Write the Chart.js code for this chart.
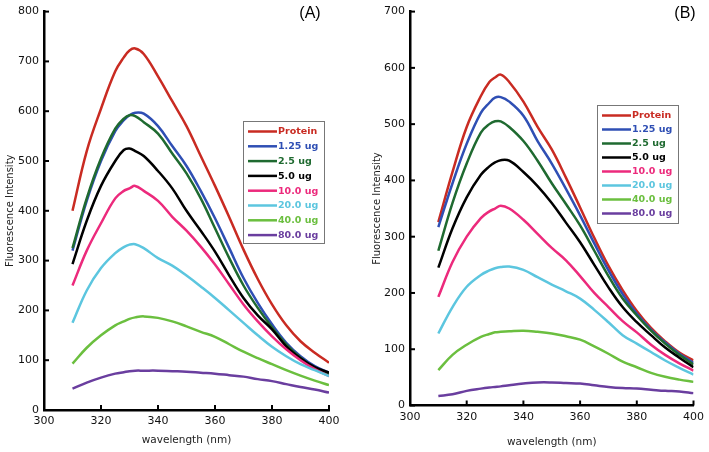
<!DOCTYPE html>
<html>
<head>
<meta charset="utf-8">
<script src="https://cdn.jsdelivr.net/npm/chart.js@4"></script>
<style>
  body { margin: 0; background: #fff; }
  #wrap { display: flex; width: 709px; height: 452px; }
  .panel { position: relative; height: 452px; }
</style>
</head>
<body>
<div id="wrap">
  <div class="panel" style="width:355px"><canvas id="chartA"></canvas></div>
  <div class="panel" style="width:354px"><canvas id="chartB"></canvas></div>
</div>
<script>
const wavelengths = [310, 315, 320, 325, 328, 330, 332, 335, 340, 345, 350, 355, 360, 365, 370, 375, 380, 385, 390, 395, 400];
const seriesNames = ['Protein', '1.25 ug', '2.5 ug', '5.0 ug', '10.0 ug', '20.0 ug', '40.0 ug', '80.0 ug'];
const seriesColors = ['#c92b22', '#2f4fb4', '#1f6a30', '#000000', '#ec2a7c', '#5cc6df', '#6bbf3f', '#6a3e9f'];

// panel (A)
const proteinA = [400, 520, 605, 680, 708, 722, 726, 715, 670, 620, 570, 510, 450, 387, 322, 263, 212, 170, 138, 115, 95];
const ug125A = [320, 420, 500, 560, 582, 592, 597, 595, 570, 530, 490, 440, 385, 325, 265, 215, 172, 135, 108, 88, 75];
const ug25A = [325, 425, 505, 565, 585, 592, 590, 578, 555, 515, 475, 425, 365, 305, 250, 205, 166, 132, 105, 85, 72];
const ug5A = [293, 380, 450, 500, 522, 525, 520, 510, 480, 445, 400, 360, 318, 270, 225, 190, 162, 128, 104, 86, 75];
const ug10A = [250, 320, 375, 425, 440, 445, 450, 440, 420, 388, 360, 328, 292, 252, 212, 178, 148, 122, 100, 82, 68];
const ug20A = [175, 240, 285, 315, 327, 332, 333, 325, 305, 290, 270, 248, 225, 200, 175, 150, 127, 108, 92, 80, 68];
const ug40A = [93, 125, 150, 170, 178, 183, 186, 188, 185, 178, 168, 157, 147, 132, 117, 104, 92, 80, 69, 59, 50];
const ug80A = [43, 55, 65, 73, 76, 78, 79, 79, 79, 78, 77, 75, 73, 70, 67, 62, 58, 52, 46, 41, 35];

// panel (B)
const proteinB = [326, 415, 495, 550, 575, 583, 588, 575, 540, 495, 455, 405, 352, 298, 248, 205, 168, 138, 114, 94, 80];
const ug125B = [317, 395, 465, 520, 538, 547, 548, 540, 515, 470, 430, 385, 338, 288, 240, 198, 163, 135, 112, 92, 76];
const ug25B = [275, 360, 430, 485, 500, 505, 505, 495, 470, 435, 395, 358, 320, 275, 230, 190, 160, 133, 110, 90, 73];
const ug5B = [245, 315, 370, 410, 425, 432, 436, 435, 415, 390, 360, 325, 290, 250, 210, 175, 148, 125, 103, 85, 68];
const ug10B = [193, 255, 300, 333, 345, 350, 355, 350, 330, 305, 280, 258, 230, 200, 175, 150, 130, 108, 90, 75, 62];
const ug20B = [128, 175, 211, 232, 240, 244, 246, 247, 241, 228, 215, 203, 190, 170, 148, 125, 110, 95, 80, 67, 55];
const ug40B = [63, 90, 108, 122, 127, 130, 131, 132, 133, 131, 128, 123, 117, 105, 92, 78, 68, 58, 51, 46, 42];
const ug80B = [17, 20, 26, 30, 32, 33, 34, 36, 39, 41, 41, 40, 39, 36, 33, 31, 30, 28, 26, 25, 22];

const xTicks = [300, 320, 340, 360, 380, 400];

// inward tick marks + framed legend + panel letter
function drawExtras(chart, opts) {
    const ctx = chart.ctx;
    const xs = chart.scales.x;
    const ys = chart.scales.y;
    const area = chart.chartArea;
    ctx.save();
    ctx.strokeStyle = '#000';
    ctx.lineWidth = 2;
    xTicks.forEach(v => {
        const px = xs.getPixelForValue(v);
        ctx.beginPath();
        ctx.moveTo(px, area.bottom);
        ctx.lineTo(px, area.bottom - 5);
        ctx.stroke();
    });
    ys.ticks.forEach(t => {
        const py = ys.getPixelForValue(t.value);
        ctx.beginPath();
        ctx.moveTo(area.left, py);
        ctx.lineTo(area.left + 5, py);
        ctx.stroke();
    });

    // legend box, Protein on top
    const lg = opts.legend;
    ctx.strokeStyle = '#777';
    ctx.lineWidth = 1;
    ctx.strokeRect(lg.x + 0.5, lg.y + 0.5, lg.w, lg.h);
    ctx.font = 'bold 9.5px "DejaVu Sans"';
    ctx.textBaseline = 'middle';
    seriesNames.forEach((name, i) => {
        const yy = lg.firstRow + i * lg.step;
        ctx.strokeStyle = seriesColors[i];
        ctx.lineWidth = 2.5;
        ctx.beginPath();
        ctx.moveTo(lg.x + 5, yy);
        ctx.lineTo(lg.x + 34, yy);
        ctx.stroke();
        ctx.fillStyle = seriesColors[i];
        ctx.fillText(name, lg.x + 35, yy + 0.5);
    });

    ctx.fillStyle = '#000';
    ctx.font = '16px "Liberation Sans"';
    ctx.textAlign = 'center';
    ctx.fillText(opts.letter, opts.letterX, opts.letterY);
    ctx.restore();
}

function makeChart(canvasId, seriesValues, yMax, lay) {
    // draw the lowest concentrations first so Protein sits on top
    const datasets = seriesValues.map((vals, i) => ({
        label: seriesNames[i],
        data: wavelengths.map((w, j) => ({ x: w, y: vals[j] })),
        borderColor: seriesColors[i],
        borderWidth: 2.5,
        pointRadius: 0,
        tension: 0.4,
        fill: false
    })).reverse();

    return new Chart(document.getElementById(canvasId).getContext('2d'), {
        type: 'line',
        data: { datasets: datasets },
        options: {
            responsive: true,
            maintainAspectRatio: false,
            animation: false,
            layout: { padding: { top: lay.top, right: lay.right, left: 0, bottom: 0 } },
            plugins: {
                legend: { display: false },
                tooltip: { enabled: false }
            },
            scales: {
                x: {
                    type: 'linear',
                    min: 300,
                    max: 400,
                    afterBuildTicks: scale => { scale.ticks = xTicks.map(v => ({ value: v })); },
                    afterFit: scale => { scale.height = lay.xHeight; },
                    border: { color: '#000', width: 2.5 },
                    grid: { display: false, drawTicks: false },
                    ticks: {
                        color: '#111',
                        padding: 5,
                        maxRotation: 0,
                        font: { family: 'DejaVu Sans', size: 11 }
                    },
                    title: {
                        display: true,
                        text: 'wavelength (nm)',
                        color: '#222',
                        padding: { top: 0, bottom: lay.xTitlePad },
                        font: { family: 'DejaVu Sans', size: 10.5 }
                    }
                },
                y: {
                    min: 0,
                    max: yMax,
                    afterFit: scale => { scale.width = lay.yWidth; },
                    border: { color: '#000', width: 2.5 },
                    grid: { display: false, drawTicks: false },
                    ticks: {
                        stepSize: 100,
                        color: '#111',
                        padding: 5,
                        font: { family: 'DejaVu Sans', size: 11 }
                    },
                    title: {
                        display: true,
                        text: 'Fluorescence Intensity',
                        color: '#222',
                        padding: { top: lay.yTitlePad, bottom: 0 },
                        font: { family: 'DejaVu Sans', size: 10 }
                    }
                }
            }
        },
        plugins: [{
            id: 'extras',
            afterDraw(chart) { drawExtras(chart, lay); }
        }]
    });
}

makeChart('chartA', [proteinA, ug125A, ug25A, ug5A, ug10A, ug20A, ug40A, ug80A], 800, {
    top: 10, right: 26, yWidth: 44, xHeight: 42, xTitlePad: 5, yTitlePad: 4,
    legend: { x: 243, y: 121, w: 81, h: 122, firstRow: 131.5, step: 14.8 },
    letter: '(A)', letterX: 310, letterY: 14
});

makeChart('chartB', [proteinB, ug125B, ug25B, ug5B, ug10B, ug20B, ug40B, ug80B], 700, {
    top: 7, right: 14, yWidth: 55, xHeight: 46.5, xTitlePad: 3, yTitlePad: 16,
    legend: { x: 242, y: 105, w: 81, h: 118, firstRow: 115.5, step: 14.0 },
    letter: '(B)', letterX: 330, letterY: 14
});
</script>
</body>
</html>
